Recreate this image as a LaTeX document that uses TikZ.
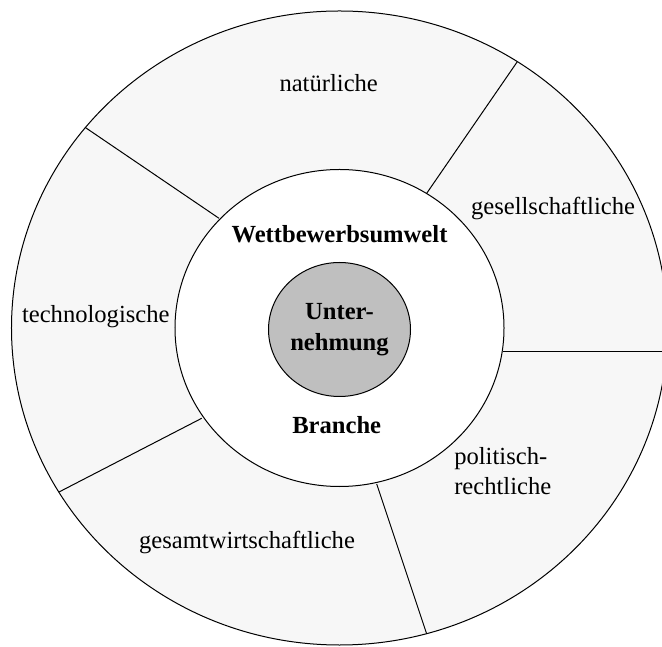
\documentclass[tikz,border=0pt]{standalone}
\usepackage{fontspec}
\setmainfont{Liberation Serif}
\usetikzlibrary{positioning}
\usetikzlibrary{shapes.geometric}
\tikzset{
  rim/.style      = { draw=black, line width=0.5pt },
  divider/.style  = { draw=black, line width=0.5pt },
  field/.style    = { font=\fontsize{12.3}{14.6}\selectfont, inner sep=0pt },
  core/.style     = { font=\fontsize{12.3}{15.8}\selectfont\bfseries, inner sep=0pt },
}
\begin{document}
\begin{tikzpicture}[x=0.5pt,y=0.5pt]
  \useasboundingbox (-339.5,-318) rectangle (322.5,328);

  % outer ring with the six environment fields
  \begin{scope}
    \clip (-339.5,-318) rectangle (322.5,328);
    \draw [rim,fill=black!3] (0,0) ellipse [x radius=328,y radius=317];
    \draw [divider] (-120.5,109.7) -- (-254.5,200.7);
    \draw [divider] (87.2,134.7)   -- (177.8,266.3);
    \draw [divider] (163.2,-23.7)  -- (327.1,-23.7);
    \draw [divider] (37.2,-156)    -- (87.2,-306);
    \draw [divider] (-137.8,-90.3) -- (-280.5,-164);
  \end{scope}

  % competition ring and firm
  \draw [rim,fill=white] (0,0) ellipse [x radius=164.5,y radius=158.5];
  \node (firm) [core,rim,ellipse,fill=black!25,align=center,
                minimum width=71pt,minimum height=67pt] at (0,-1.5) {Unter-\\nehmung};

  \node (comp)   [core,anchor=base]  at (0,85.3)      {Wettbewerbsumwelt};
  \node (branch) [core,anchor=base]  at (-2.8,-105.3) {Branche};

  \node (nat)   [field,anchor=base]      at (-10.8,236.3)  {natürliche};
  \node (soc)   [field,anchor=base]      at (213.5,113)    {gesellschaftliche};
  \node (tech)  [field,anchor=base]      at (-243.7,5.3)   {technologische};
  \node (pol)   [field,anchor=base west,align=left] at (114.4,-166) {politisch-\\rechtliche};
  \node (econ)  [field,anchor=base]      at (-92.5,-220)   {gesamtwirtschaftliche};
\end{tikzpicture}
\end{document}
